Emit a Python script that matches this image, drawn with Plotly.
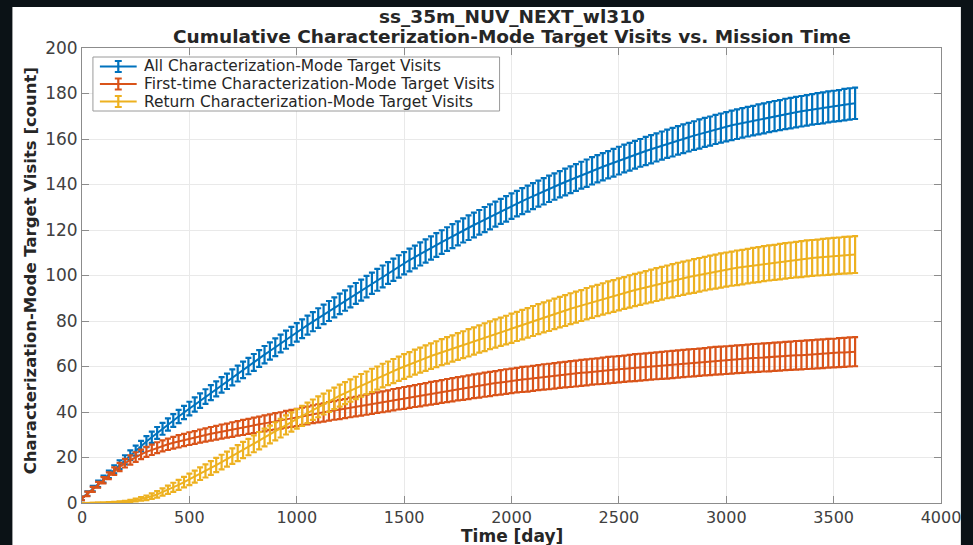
import plotly.graph_objects as go

# Sampling times of the cumulative counts (every 25 days, 0..3600)
DAYS = list(range(0, 3601, 25))

# Mean cumulative visits, one row per 100 days (t, t+25, t+50, t+75)
ALL_VISITS = [
    2.0, 4.1, 6.3, 8.4,
    10.5, 12.6, 14.8, 16.9,
    19.0, 21.0, 23.0, 25.0,
    27.0, 28.9, 30.8, 32.6,
    34.5, 36.3, 38.0, 39.8,
    41.5, 43.3, 45.0, 46.8,
    48.5, 50.2, 51.9, 53.5,
    55.2, 56.9, 58.5, 60.2,
    61.8, 63.5, 65.2, 66.8,
    68.5, 70.1, 71.8, 73.4,
    75.0, 76.6, 78.2, 79.7,
    81.3, 82.9, 84.4, 86.0,
    87.5, 89.0, 90.6, 92.1,
    93.6, 95.1, 96.6, 98.1,
    99.6, 101.1, 102.5, 104.0,
    105.4, 106.8, 108.1, 109.5,
    110.8, 112.1, 113.4, 114.7,
    116.0, 117.3, 118.5, 119.8,
    121.0, 122.2, 123.4, 124.6,
    125.8, 127.0, 128.2, 129.3,
    130.5, 131.6, 132.7, 133.8,
    134.9, 136.0, 137.0, 138.1,
    139.1, 140.1, 141.1, 142.1,
    143.1, 144.1, 145.0, 146.0,
    146.9, 147.8, 148.7, 149.6,
    150.5, 151.4, 152.2, 153.1,
    153.9, 154.7, 155.5, 156.3,
    157.1, 157.9, 158.6, 159.4,
    160.1, 160.8, 161.5, 162.2,
    162.9, 163.5, 164.2, 164.8,
    165.4, 166.0, 166.5, 167.1,
    167.6, 168.1, 168.6, 169.1,
    169.6, 170.1, 170.5, 171.0,
    171.4, 171.8, 172.2, 172.6,
    173.0, 173.4, 173.7, 174.1,
    174.4, 174.7, 175.1, 175.4,
    175.7,
]

FIRST_VISITS = [
    2.0, 4.0, 6.0, 8.0,
    10.0, 12.0, 14.0, 15.8,
    17.5, 18.9, 20.2, 21.4,
    22.5, 23.4, 24.3, 25.1,
    25.8, 26.5, 27.1, 27.7,
    28.3, 28.8, 29.4, 29.9,
    30.4, 30.9, 31.4, 31.8,
    32.3, 32.8, 33.2, 33.7,
    34.1, 34.6, 35.0, 35.5,
    35.9, 36.3, 36.8, 37.2,
    37.6, 38.1, 38.5, 39.0,
    39.4, 39.8, 40.3, 40.7,
    41.1, 41.5, 42.0, 42.4,
    42.8, 43.2, 43.7, 44.1,
    44.5, 44.9, 45.4, 45.8,
    46.2, 46.6, 47.0, 47.4,
    47.8, 48.2, 48.6, 49.0,
    49.4, 49.8, 50.2, 50.5,
    50.9, 51.3, 51.6, 52.0,
    52.3, 52.7, 53.0, 53.4,
    53.7, 54.0, 54.3, 54.5,
    54.8, 55.1, 55.4, 55.6,
    55.9, 56.2, 56.4, 56.7,
    56.9, 57.2, 57.4, 57.7,
    57.9, 58.1, 58.4, 58.6,
    58.8, 59.0, 59.3, 59.5,
    59.7, 59.9, 60.1, 60.3,
    60.5, 60.7, 60.9, 61.1,
    61.3, 61.5, 61.7, 61.9,
    62.1, 62.3, 62.5, 62.6,
    62.8, 63.0, 63.2, 63.3,
    63.5, 63.7, 63.8, 64.0,
    64.1, 64.3, 64.4, 64.6,
    64.7, 64.9, 65.0, 65.2,
    65.3, 65.5, 65.6, 65.8,
    65.9, 66.1, 66.2, 66.4,
    66.5,
]

RETURN_VISITS = [
    0.0, 0.0, 0.0, 0.1,
    0.1, 0.2, 0.3, 0.4,
    0.6, 0.9, 1.3, 1.8,
    2.3, 3.0, 3.8, 4.8,
    5.8, 6.9, 8.0, 9.2,
    10.4, 11.6, 12.9, 14.1,
    15.4, 16.7, 18.0, 19.3,
    20.6, 21.9, 23.3, 24.6,
    26.0, 27.4, 28.8, 30.1,
    31.5, 32.9, 34.3, 35.6,
    37.0, 38.3, 39.6, 41.0,
    42.3, 43.5, 44.7, 46.0,
    47.2, 48.3, 49.4, 50.6,
    51.7, 52.8, 53.9, 54.9,
    56.0, 57.0, 58.0, 59.0,
    60.0, 60.9, 61.9, 62.8,
    63.7, 64.6, 65.4, 66.3,
    67.1, 67.9, 68.8, 69.6,
    70.4, 71.2, 72.1, 72.9,
    73.7, 74.5, 75.3, 76.0,
    76.8, 77.6, 78.4, 79.2,
    80.0, 80.8, 81.6, 82.3,
    83.1, 83.9, 84.6, 85.4,
    86.1, 86.8, 87.6, 88.3,
    89.0, 89.7, 90.4, 91.0,
    91.7, 92.3, 93.0, 93.6,
    94.2, 94.8, 95.4, 96.0,
    96.6, 97.2, 97.7, 98.3,
    98.8, 99.3, 99.8, 100.3,
    100.8, 101.3, 101.7, 102.2,
    102.6, 103.0, 103.4, 103.7,
    104.1, 104.5, 104.8, 105.2,
    105.5, 105.8, 106.1, 106.4,
    106.7, 107.0, 107.2, 107.5,
    107.7, 107.9, 108.1, 108.3,
    108.5, 108.7, 108.9, 109.0,
    109.2,
]

# Half-length of each error bar (one standard deviation)
ALL_ERR = [
    0.8, 1.0, 1.2, 1.4,
    1.5, 1.6, 1.8, 1.9,
    2.0, 2.1, 2.2, 2.3,
    2.4, 2.5, 2.6, 2.6,
    2.7, 2.8, 2.9, 2.9,
    3.0, 3.1, 3.2, 3.2,
    3.3, 3.3, 3.4, 3.4,
    3.5, 3.5, 3.6, 3.6,
    3.7, 3.7, 3.8, 3.8,
    3.9, 3.9, 4.0, 4.0,
    4.1, 4.1, 4.2, 4.2,
    4.3, 4.3, 4.4, 4.4,
    4.5, 4.5, 4.6, 4.6,
    4.6, 4.7, 4.7, 4.8,
    4.8, 4.8, 4.9, 4.9,
    4.9, 5.0, 5.0, 5.1,
    5.1, 5.1, 5.2, 5.2,
    5.2, 5.3, 5.3, 5.3,
    5.4, 5.4, 5.4, 5.5,
    5.5, 5.5, 5.5, 5.6,
    5.6, 5.6, 5.7, 5.7,
    5.7, 5.7, 5.8, 5.8,
    5.8, 5.8, 5.9, 5.9,
    5.9, 5.9, 6.0, 6.0,
    6.0, 6.0, 6.0, 6.1,
    6.1, 6.1, 6.1, 6.1,
    6.1, 6.2, 6.2, 6.2,
    6.2, 6.2, 6.3, 6.3,
    6.3, 6.3, 6.3, 6.4,
    6.4, 6.4, 6.4, 6.4,
    6.4, 6.5, 6.5, 6.5,
    6.5, 6.5, 6.6, 6.6,
    6.6, 6.6, 6.6, 6.7,
    6.7, 6.7, 6.7, 6.7,
    6.7, 6.8, 6.8, 6.8,
    6.8, 6.8, 6.9, 6.9,
    6.9,
]

FIRST_ERR = [
    0.8, 1.0, 1.1, 1.3,
    1.4, 1.5, 1.7, 1.8,
    1.9, 2.0, 2.1, 2.1,
    2.2, 2.3, 2.4, 2.4,
    2.5, 2.6, 2.7, 2.7,
    2.8, 2.8, 2.9, 2.9,
    3.0, 3.0, 3.1, 3.1,
    3.2, 3.2, 3.3, 3.3,
    3.4, 3.4, 3.5, 3.5,
    3.6, 3.6, 3.7, 3.7,
    3.8, 3.8, 3.9, 3.9,
    4.0, 4.0, 4.1, 4.1,
    4.2, 4.2, 4.3, 4.3,
    4.4, 4.4, 4.5, 4.5,
    4.6, 4.6, 4.7, 4.7,
    4.8, 4.8, 4.8, 4.9,
    4.9, 5.0, 5.0, 5.0,
    5.1, 5.1, 5.1, 5.2,
    5.2, 5.2, 5.3, 5.3,
    5.3, 5.3, 5.4, 5.4,
    5.4, 5.4, 5.5, 5.5,
    5.5, 5.5, 5.6, 5.6,
    5.6, 5.6, 5.6, 5.7,
    5.7, 5.7, 5.7, 5.7,
    5.7, 5.8, 5.8, 5.8,
    5.8, 5.8, 5.8, 5.9,
    5.9, 5.9, 5.9, 5.9,
    5.9, 6.0, 6.0, 6.0,
    6.0, 6.0, 6.0, 6.0,
    6.0, 6.1, 6.1, 6.1,
    6.1, 6.1, 6.1, 6.1,
    6.1, 6.2, 6.2, 6.2,
    6.2, 6.2, 6.2, 6.2,
    6.2, 6.3, 6.3, 6.3,
    6.3, 6.3, 6.3, 6.3,
    6.3, 6.4, 6.4, 6.4,
    6.4,
]

RETURN_ERR = [
    0.0, 0.0, 0.1, 0.1,
    0.1, 0.2, 0.2, 0.3,
    0.4, 0.5, 0.6, 0.8,
    1.0, 1.2, 1.4, 1.6,
    1.8, 2.0, 2.2, 2.3,
    2.5, 2.6, 2.8, 2.9,
    3.0, 3.1, 3.2, 3.3,
    3.4, 3.5, 3.6, 3.6,
    3.7, 3.8, 3.9, 3.9,
    4.0, 4.1, 4.2, 4.2,
    4.3, 4.4, 4.5, 4.5,
    4.6, 4.6, 4.7, 4.7,
    4.8, 4.8, 4.9, 4.9,
    5.0, 5.0, 5.1, 5.1,
    5.2, 5.2, 5.3, 5.3,
    5.4, 5.4, 5.5, 5.5,
    5.6, 5.6, 5.7, 5.7,
    5.8, 5.8, 5.9, 5.9,
    6.0, 6.0, 6.0, 6.1,
    6.1, 6.2, 6.2, 6.3,
    6.4, 6.4, 6.5, 6.5,
    6.6, 6.6, 6.6, 6.7,
    6.7, 6.7, 6.8, 6.8,
    6.8, 6.8, 6.9, 6.9,
    6.9, 6.9, 7.0, 7.0,
    7.0, 7.0, 7.1, 7.1,
    7.1, 7.1, 7.2, 7.2,
    7.2, 7.2, 7.3, 7.3,
    7.3, 7.3, 7.4, 7.4,
    7.4, 7.4, 7.5, 7.5,
    7.5, 7.5, 7.6, 7.6,
    7.6, 7.6, 7.7, 7.7,
    7.7, 7.7, 7.8, 7.8,
    7.8, 7.8, 7.9, 7.9,
    7.9, 7.9, 8.0, 8.0,
    8.0, 8.0, 8.1, 8.1,
    8.1,
]

SERIES_NAMES = [
    "All Characterization-Mode Target Visits",
    "First-time Characterization-Mode Target Visits",
    "Return Characterization-Mode Target Visits",
]
SERIES_COLORS = ["#0072BD", "#D95319", "#EDB120"]

X_TICKS = [0, 500, 1000, 1500, 2000, 2500, 3000, 3500, 4000]
Y_TICKS = [0, 20, 40, 60, 80, 100, 120, 140, 160, 180, 200]

TITLE_LINES = ["ss_35m_NUV_NEXT_wl310",
               "Cumulative Characterization-Mode Target Visits vs. Mission Time"]
X_TITLE = "Time [day]"
Y_TITLE = "Characterization-Mode Target Visits [count]"

for arr in (ALL_VISITS, FIRST_VISITS, RETURN_VISITS, ALL_ERR, FIRST_ERR, RETURN_ERR):
    assert len(arr) == len(DAYS)

FONT = "DejaVu Sans"
AXIS_GRAY = "#8c8c8c"
TEXT_GRAY = "#404040"
TITLE_COLOR = "#262626"

# Figure geometry in pixels (used to place the boxed legend and titles)
W, H = 973, 545
ML, MR, MT, MB = 82, 27, 48, 42
PW, PH = W - ML - MR, H - MT - MB


def px_x(x):
    return (x - ML) / PW


def px_y(y):
    return (H - MB - y) / PH


fig = go.Figure()
for name, ys, errs, color in zip(
        SERIES_NAMES,
        [ALL_VISITS, FIRST_VISITS, RETURN_VISITS],
        [ALL_ERR, FIRST_ERR, RETURN_ERR],
        SERIES_COLORS):
    fig.add_trace(go.Scatter(
        x=DAYS, y=ys, name=name,
        mode="lines",
        line=dict(color=color, width=2),
        error_y=dict(type="data", array=errs, visible=True,
                     color=color, thickness=2.2, width=3),
        showlegend=False,
    ))

axis_common = dict(
    ticks="inside", ticklen=7, tickwidth=1, tickcolor=AXIS_GRAY,
    showline=True, linecolor=AXIS_GRAY, linewidth=1, mirror="ticks",
    showgrid=True, gridcolor="#e9e9e9", gridwidth=1, zeroline=False,
)

shapes = [dict(
    type="rect", xref="paper", yref="paper",
    x0=px_x(12), x1=px_x(966), y0=px_y(560), y1=px_y(7),
    fillcolor="white", line=dict(width=0), layer="below",
)]
annotations = []

# Boxed legend: line sample with an error-bar glyph, then the series name
shapes.append(dict(
    type="rect", xref="paper", yref="paper",
    x0=px_x(93), x1=px_x(502), y0=px_y(111), y1=px_y(57),
    fillcolor="white", line=dict(color="#9a9a9a", width=1), layer="above",
))
for i, (name, color) in enumerate(zip(SERIES_NAMES, SERIES_COLORS)):
    yc = 66.5 + 17.5 * i
    shapes.append(dict(type="line", xref="paper", yref="paper",
                       x0=px_x(100), x1=px_x(137), y0=px_y(yc), y1=px_y(yc),
                       line=dict(color=color, width=2.2), layer="above"))
    shapes.append(dict(type="line", xref="paper", yref="paper",
                       x0=px_x(118.5), x1=px_x(118.5), y0=px_y(yc - 5.5), y1=px_y(yc + 5.5),
                       line=dict(color=color, width=2.2), layer="above"))
    for yy in (yc - 5.5, yc + 5.5):
        shapes.append(dict(type="line", xref="paper", yref="paper",
                           x0=px_x(115), x1=px_x(122), y0=px_y(yy), y1=px_y(yy),
                           line=dict(color=color, width=2), layer="above"))
    annotations.append(dict(
        text=name, xref="paper", yref="paper", x=px_x(142), y=px_y(yc),
        xanchor="left", yanchor="middle", showarrow=False,
        font=dict(family=FONT, size=15.4, color=TITLE_COLOR),
    ))

# Two-line bold title
for text, yc in zip(TITLE_LINES, (16, 36)):
    annotations.append(dict(
        text=text, xref="paper", yref="paper", x=0.5, y=px_y(yc),
        xanchor="center", yanchor="middle", showarrow=False,
        font=dict(family=FONT, size=18.5, color=TITLE_COLOR, weight="bold"),
    ))

# Axis titles
annotations.append(dict(
    text=X_TITLE, xref="paper", yref="paper", x=0.5, y=px_y(535.5),
    xanchor="center", yanchor="middle", showarrow=False,
    font=dict(family=FONT, size=17, color=TITLE_COLOR, weight="bold"),
))
annotations.append(dict(
    text=Y_TITLE, xref="paper", yref="paper", x=px_x(30), y=px_y(271),
    xanchor="center", yanchor="middle", showarrow=False, textangle=-90,
    font=dict(family=FONT, size=16.5, color=TITLE_COLOR, weight="bold"),
))

fig.update_layout(
    width=W, height=H,
    margin=dict(l=ML, r=MR, t=MT, b=MB),
    paper_bgcolor="#0b1216",
    plot_bgcolor="white",
    showlegend=False,
    xaxis=dict(range=[0, 4000], tickvals=X_TICKS,
               tickfont=dict(family=FONT, size=16, color=TEXT_GRAY), **axis_common),
    yaxis=dict(range=[0, 200], tickvals=Y_TICKS,
               tickfont=dict(family=FONT, size=17, color=TEXT_GRAY), **axis_common),
    shapes=shapes,
    annotations=annotations,
)

fig.write_html("out.html")
